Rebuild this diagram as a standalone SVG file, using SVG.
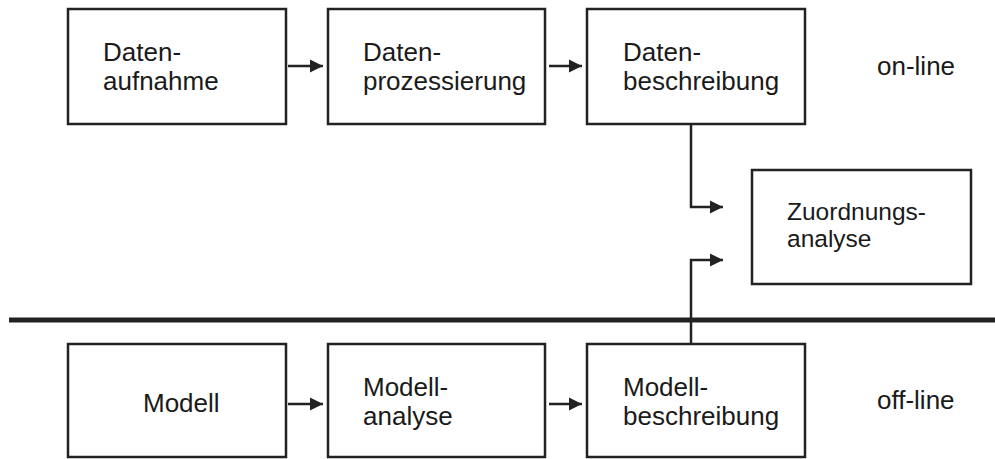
<svg xmlns="http://www.w3.org/2000/svg" width="995" height="459" viewBox="0 0 995 459">
<defs>
<style>
.box{fill:#fff;stroke:#222;stroke-width:2.5}
.t{font-family:"Liberation Sans",Arial,sans-serif;font-size:26px;fill:#1a1a1a}
.ts{font-family:"Liberation Sans",Arial,sans-serif;font-size:24.5px;fill:#1a1a1a}
.c{fill:none;stroke:#222;stroke-width:2.5}
</style>
<marker id="ah" viewBox="0 0 13 14" refX="13" refY="7" markerWidth="13" markerHeight="14" markerUnits="userSpaceOnUse" orient="auto">
<path d="M0,0.5 L13,7 L0,13.5 Z" fill="#222"/>
</marker>
</defs>
<rect width="995" height="459" fill="#fff"/>
<g id="n1"><rect class="box" x="68" y="9" width="218" height="115"/><text class="t" x="103" y="61">Daten-</text><text class="t" x="103" y="90">aufnahme</text></g>
<g id="n2"><rect class="box" x="328" y="9" width="217" height="115"/><text class="t" x="363" y="61">Daten-</text><text class="t" x="363" y="90">prozessierung</text></g>
<g id="n3"><rect class="box" x="587" y="9" width="218" height="115"/><text class="t" x="623" y="61">Daten-</text><text class="t" x="623" y="90">beschreibung</text></g>
<g id="l1"><text class="t" x="877" y="75">on-line</text></g>
<g id="n7"><rect class="box" x="752" y="170" width="219" height="114"/><text class="ts" x="787" y="220">Zuordnungs-</text><text class="ts" x="787" y="247">analyse</text></g>
<g id="sep"><line x1="9" y1="320" x2="995" y2="320" stroke="#222" stroke-width="5"/></g>
<g id="n4"><rect class="box" x="68" y="344" width="218" height="113"/><text class="t" x="143" y="412">Modell</text></g>
<g id="n5"><rect class="box" x="328" y="344" width="217" height="113"/><text class="t" x="363" y="396">Modell-</text><text class="t" x="363" y="425">analyse</text></g>
<g id="n6"><rect class="box" x="587" y="344" width="218" height="113"/><text class="t" x="623" y="396">Modell-</text><text class="t" x="623" y="425">beschreibung</text></g>
<g id="l2"><text class="t" x="877" y="409">off-line</text></g>
<g id="connectors">
<line class="c" x1="288" y1="66" x2="323" y2="66" marker-end="url(#ah)"/>
<line class="c" x1="549" y1="66" x2="582" y2="66" marker-end="url(#ah)"/>
<line class="c" x1="288" y1="404" x2="323" y2="404" marker-end="url(#ah)"/>
<line class="c" x1="549" y1="404" x2="582" y2="404" marker-end="url(#ah)"/>
<polyline class="c" points="691,124 691,207 723,207" marker-end="url(#ah)"/>
<polyline class="c" points="691,344 691,260 723,260" marker-end="url(#ah)"/>
</g>
</svg>
